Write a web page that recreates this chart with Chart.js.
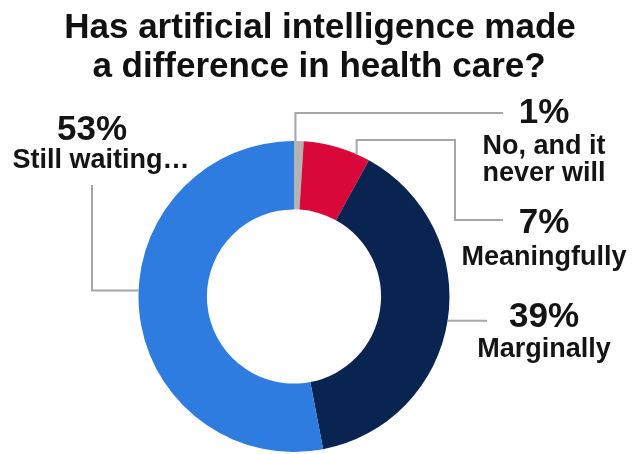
<!DOCTYPE html>
<html>
<head>
<meta charset="utf-8">
<script src="https://cdn.jsdelivr.net/npm/chart.js@4/dist/chart.umd.min.js"></script>
<style>
  html, body { margin: 0; padding: 0; background: #fff; }
  #wrap { width: 633px; height: 454px; }
</style>
</head>
<body>
<div id="wrap"><canvas id="aiChart" width="633" height="454"></canvas></div>
<script>
var answers = ['No, and it never will', 'Meaningfully', 'Marginally', 'Still waiting…'];
var answerLines = [['No, and it', 'never will'], ['Meaningfully'], ['Marginally'], ['Still waiting…']];
var shares = [1, 7, 39, 53];
var sliceColors = ['#b3b3b3', '#d9073a', '#0a2452', '#2f7ce0'];
var titleLines = ['Has artificial intelligence made', 'a difference in health care?'];

var FONT = '"Liberation Sans", Arial, sans-serif';

// where along each slice the leader line starts (0 = start, 1 = end), and its path
var leaders = [
  { at: 0.15, path: function (p) { return [[p.x, 113], [503, 113]]; },
    label: { x: 544, pct: 123, lines: [154, 181] } },
  { at: 0.8, path: function (p) { return [[p.x, 140], [455, 140], [455, 220], [503, 220]]; },
    label: { x: 544, pct: 233, lines: [265] } },
  { at: 0.5, path: function (p) { return [[487, p.y]]; },
    label: { x: 544, pct: 327, lines: [357] } },
  { at: 0.54, path: function (p) { return [[92, p.y], [92, 185]]; },
    label: { x: 96, pct: 140, lines: [168] } }
];

var annotate = {
  id: 'annotate',
  afterDraw: function (chart) {
    var ctx = chart.ctx;
    ctx.save();

    // title
    ctx.fillStyle = '#111';
    ctx.textAlign = 'center';
    ctx.textBaseline = 'alphabetic';
    ctx.font = 'bold 35px ' + FONT;
    ctx.fillText(titleLines[0], 320, 38);
    ctx.fillText(titleLines[1], 319, 77);

    var arcs = chart.getDatasetMeta(0).data;
    arcs.forEach(function (arc, i) {
      var a = arc.getProps(['x', 'y', 'startAngle', 'endAngle', 'outerRadius'], true);
      var ang = a.startAngle + leaders[i].at * (a.endAngle - a.startAngle);
      var p = { x: a.x + Math.cos(ang) * a.outerRadius, y: a.y + Math.sin(ang) * a.outerRadius };

      ctx.strokeStyle = '#a6a6a6';
      ctx.lineWidth = 2;
      ctx.beginPath();
      ctx.moveTo(p.x, p.y);
      leaders[i].path(p).forEach(function (pt) { ctx.lineTo(pt[0], pt[1]); });
      ctx.stroke();

      var lb = leaders[i].label;
      ctx.fillStyle = '#141414';
      ctx.font = 'bold 35px ' + FONT;
      ctx.fillText(shares[i] + '%', lb.x - (i === 3 ? 4 : 0), lb.pct);
      ctx.font = 'bold 27px ' + FONT;
      answerLines[i].forEach(function (t, k) {
        ctx.fillText(t, lb.x + (i === 3 ? 5 : 0), lb.lines[k]);
      });
    });
    ctx.restore();
  }
};

new Chart(document.getElementById('aiChart'), {
  type: 'doughnut',
  data: {
    labels: answers,
    datasets: [{
      data: shares,
      backgroundColor: sliceColors,
      borderWidth: 0,
      hoverOffset: 0
    }]
  },
  options: {
    responsive: false,
    animation: false,
    cutout: '56%',
    layout: { padding: { top: 141, left: 0, right: 45, bottom: 2 } },
    plugins: {
      legend: { display: false },
      tooltip: { enabled: false },
      title: { display: false }
    }
  },
  plugins: [annotate]
});
</script>
</body>
</html>
